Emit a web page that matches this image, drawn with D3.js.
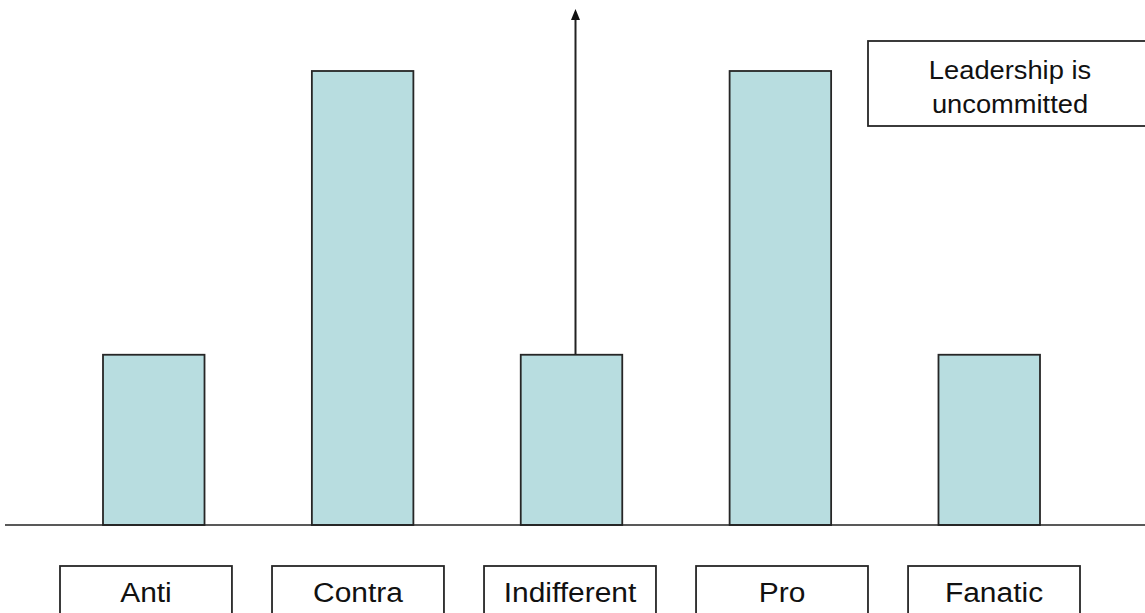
<!DOCTYPE html>
<html>
<head>
<meta charset="utf-8">
<script src="https://cdn.jsdelivr.net/npm/d3@7"></script>
<style>
  html, body { margin: 0; padding: 0; background: #fff; }
  svg { display: block; }
  text { font-family: "Liberation Sans", Arial, sans-serif; fill: #111; }
</style>
</head>
<body>
<script>
const categories = ["Anti", "Contra", "Indifferent", "Pro", "Fanatic"];
const values = [3, 8, 3, 8, 3];
const noteLines = ["Leadership is", "uncommitted"];
const arrowCategory = "Indifferent";

const W = 1145, H = 613;
const svg = d3.select("body").append("svg").attr("width", W).attr("height", H);

const x = d3.scaleBand().domain(categories).range([103, 1040]).paddingInner(0.514).paddingOuter(0);
const xLab = d3.scaleBand().domain(categories).range([60, 1080]).paddingInner(0.189).paddingOuter(0);
const y = d3.scaleLinear().domain([0, 8]).range([525, 71]);

// bars
svg.selectAll("rect.bar").data(categories).join("rect")
  .attr("class", "bar")
  .attr("x", d => x(d))
  .attr("width", x.bandwidth())
  .attr("y", (d, i) => y(values[i]))
  .attr("height", (d, i) => y(0) - y(values[i]))
  .attr("fill", "#b8dde0")
  .attr("stroke", "#262626")
  .attr("stroke-width", 1.8);

// baseline
svg.append("line")
  .attr("x1", 5).attr("x2", W).attr("y1", y(0)).attr("y2", y(0))
  .attr("stroke", "#222").attr("stroke-width", 1.6);

// arrow
const ai = categories.indexOf(arrowCategory);
const ax = x(arrowCategory) + x.bandwidth() / 2 + 4;
svg.append("line")
  .attr("x1", ax).attr("x2", ax)
  .attr("y1", y(values[ai])).attr("y2", 18)
  .attr("stroke", "#222").attr("stroke-width", 2);
svg.append("path")
  .attr("d", `M${ax},9 L${ax - 4.5},20 L${ax + 4.5},20 Z`)
  .attr("fill", "#111");

// category label boxes
const lab = svg.selectAll("g.lab").data(categories).join("g").attr("class", "lab");
lab.append("rect")
  .attr("x", d => xLab(d))
  .attr("y", 566)
  .attr("width", xLab.bandwidth())
  .attr("height", 70)
  .attr("fill", "#fff")
  .attr("stroke", "#262626")
  .attr("stroke-width", 1.8);
lab.append("text")
  .attr("transform", d => `translate(${xLab(d) + xLab.bandwidth() / 2},602) scale(1.07,1)`)
  .attr("text-anchor", "middle")
  .style("font-size", "28px")
  .text(d => d);

// note box
svg.append("rect")
  .attr("x", 868).attr("y", 41)
  .attr("width", 300).attr("height", 85)
  .attr("fill", "#fff")
  .attr("stroke", "#262626")
  .attr("stroke-width", 1.8);
svg.selectAll("text.note").data(noteLines).join("text")
  .attr("class", "note")
  .attr("transform", (d, i) => `translate(1010,${79 + i * 34}) scale(1.05,1)`)
  .attr("text-anchor", "middle")
  .style("font-size", "26px")
  .text(d => d);
</script>
</body>
</html>
